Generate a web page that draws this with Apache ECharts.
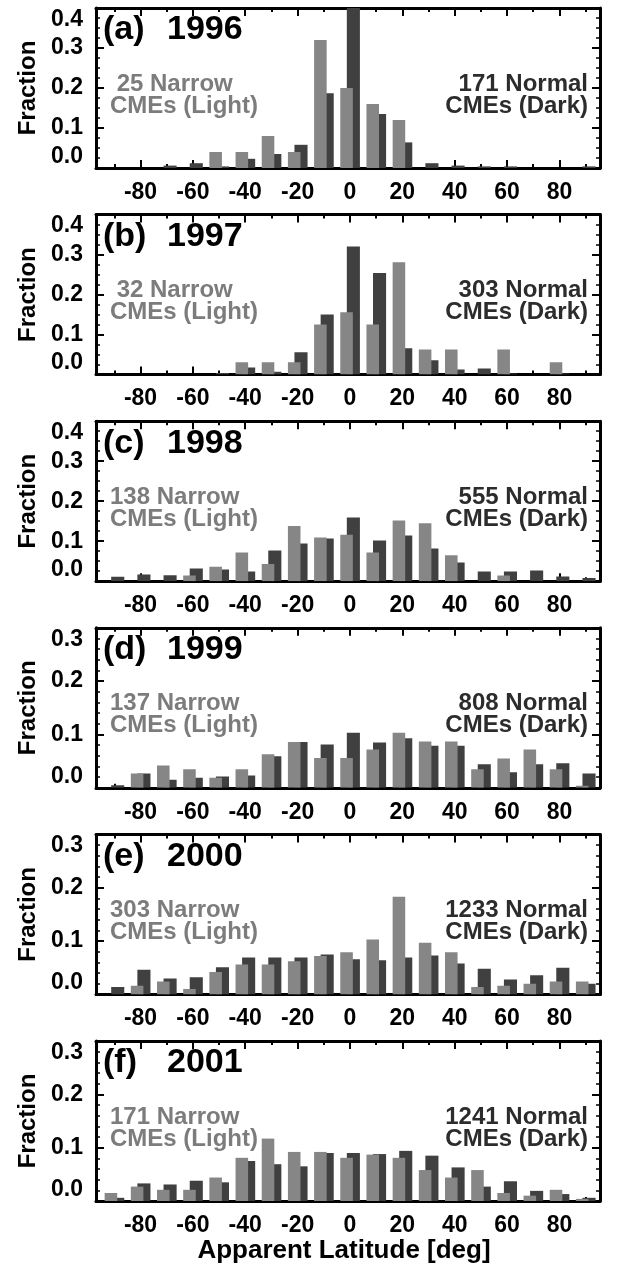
<!DOCTYPE html>
<html>
<head>
<meta charset="utf-8">
<script src="https://cdn.jsdelivr.net/npm/echarts@6/dist/echarts.min.js"></script>
<style>
html,body{margin:0;padding:0;background:#fff;}
#chart{width:618px;height:1268px;}
</style>
</head>
<body>
<div id="chart"></div>
<script>
// ---------------- data ----------------
const latBins = [-90,-80,-70,-60,-50,-40,-30,-20,-10,0,10,20,30,40,50,60,70,80,90];
const xMajorTicks = [-80,-60,-40,-20,0,20,40,60,80];
const xMinorTicks = [-90,-70,-50,-30,-10,10,30,50,70,90];
const panelLetters = ['(a)','(b)','(c)','(d)','(e)','(f)'];
const years = ['1996','1997','1998','1999','2000','2001'];
const narrowCounts = [25,32,138,137,303,171];
const normalCounts = [171,303,555,808,1233,1241];
const yMaxes = [0.4,0.4,0.4,0.3,0.3,0.3];

// narrow CMEs (light bars)
const light1996 = [0,0,0,0,0.04,0.04,0.08,0.04,0.32,0.20,0.16,0.12,0,0,0,0,0,0,0];
const light1997 = [0,0,0,0,0,0.031,0.031,0.031,0.125,0.156,0.125,0.281,0.0625,0.0625,0,0.0625,0,0.031,0];
const light1998 = [0,0,0,0.0145,0.036,0.072,0.043,0.138,0.109,0.116,0.072,0.152,0.145,0.065,0,0.0145,0,0,0];
const light1999 = [0,0.027,0.042,0.035,0.019,0.035,0.063,0.086,0.056,0.056,0.072,0.103,0.087,0.087,0.035,0.055,0.072,0.035,0.004];
const light2000 = [0,0.016,0.024,0.010,0.042,0.056,0.056,0.062,0.072,0.079,0.103,0.183,0.097,0.079,0.014,0.016,0.020,0.024,0.024];
const light2001 = [0.015,0.027,0.021,0.021,0.044,0.081,0.117,0.092,0.092,0.081,0.087,0.081,0.058,0.044,0.058,0.015,0.010,0.021,0.004];

// normal CMEs (dark bars)
const dark1996 = [0,0,0.006,0.012,0.004,0.023,0.035,0.058,0.187,0.41,0.135,0.064,0.012,0.006,0.004,0.004,0,0,0.004];
const dark1997 = [0,0,0,0,0.004,0.018,0.007,0.056,0.15,0.32,0.254,0.066,0.036,0.013,0.015,0.003,0,0.003,0];
const dark1998 = [0.011,0.017,0.015,0.032,0.029,0.024,0.077,0.094,0.107,0.159,0.102,0.114,0.082,0.047,0.024,0.024,0.027,0.012,0.008];
const dark1999 = [0.005,0.027,0.015,0.019,0.021,0.023,0.059,0.086,0.081,0.103,0.085,0.093,0.079,0.079,0.044,0.029,0.044,0.046,0.027];
const dark2000 = [0.014,0.046,0.030,0.032,0.051,0.069,0.069,0.069,0.075,0.066,0.064,0.069,0.073,0.058,0.048,0.028,0.036,0.050,0.020];
const dark2001 = [0.006,0.033,0.031,0.038,0.035,0.075,0.069,0.065,0.090,0.090,0.088,0.094,0.085,0.063,0.027,0.037,0.019,0.013,0.006];

const lightSeries = [light1996,light1997,light1998,light1999,light2000,light2001];
const darkSeries = [dark1996,dark1997,dark1998,dark1999,dark2000,dark2001];

// ---------------- layout / style ----------------
const FONT = '"Liberation Sans", Arial, Helvetica, sans-serif';
const GRID_LEFT = 96, GRID_W = 504, TOP0 = 8, PITCH = 206.6, GRID_H = 160;
const XMIN = -97, XMAX = 95.5;
const LIGHT = '#868686', DARK = '#404040';
const LIGHT_TXT = '#7c7c7c', DARK_TXT = '#2c2c2c';

function barRender(offL, offR, color) {
  return function (params, api) {
    const c = api.value(0), v = api.value(1);
    const p0 = api.coord([c + offL, v]);
    const p1 = api.coord([c + offR, 0]);
    return {
      type: 'rect',
      shape: { x: p0[0], y: p0[1], width: p1[0] - p0[0], height: p1[1] - p0[1] },
      style: { fill: color }
    };
  };
}

const grids = [], xAxes = [], yAxes = [], series = [], graphics = [];
const pad3 = n => (String(n).length < 3 ? ' ' : '') + n;
function txt(x, y, text, size, fill, align, extra) {
  return Object.assign({ type: 'text', x: x, y: y, z: 10,
    style: { text: text, font: 'bold ' + size + 'px ' + FONT, fill: fill, align: align, verticalAlign: 'middle', textAlign: align, textVerticalAlign: 'middle' } }, extra || {});
}

for (let i = 0; i < 6; i++) {
  const top = TOP0 + i * PITCH;
  grids.push({ left: GRID_LEFT, top: top, width: GRID_W, height: GRID_H, containLabel: false });
  const base = { gridIndex: i, type: 'value', min: XMIN, max: XMAX, splitLine: { show: false } };
  const lineOn = { show: true, onZero: false, lineStyle: { color: '#000', width: 3 } };
  const lineOff = { show: false, onZero: false };
  xAxes.push(Object.assign({}, base, {
    position: 'bottom', axisLine: lineOn,
    axisTick: { show: true, inside: true, length: 8, lineStyle: { color: '#000', width: 2 }, customValues: xMajorTicks },
    axisLabel: { show: true, customValues: xMajorTicks, color: '#000', fontSize: 23, fontWeight: 'bold', fontFamily: FONT, margin: 13 }
  }));
  xAxes.push(Object.assign({}, base, {
    position: 'bottom', axisLine: lineOff,
    axisTick: { show: true, inside: true, length: 4, lineStyle: { color: '#000', width: 2 }, customValues: xMinorTicks },
    axisLabel: { show: false }
  }));
  xAxes.push(Object.assign({}, base, {
    position: 'top', axisLine: lineOn,
    axisTick: { show: true, inside: true, length: 8, lineStyle: { color: '#000', width: 2 }, customValues: xMajorTicks },
    axisLabel: { show: false }
  }));
  xAxes.push(Object.assign({}, base, {
    position: 'top', axisLine: lineOff,
    axisTick: { show: true, inside: true, length: 4, lineStyle: { color: '#000', width: 2 }, customValues: xMinorTicks },
    axisLabel: { show: false }
  }));
  const yBase = {
    gridIndex: i, type: 'value', min: 0, max: yMaxes[i], interval: 0.1,
    splitLine: { show: false },
    axisLine: { show: true, onZero: false, lineStyle: { color: '#000', width: 3 } },
    axisTick: { show: true, inside: true, length: 8, lineStyle: { color: '#000', width: 2 } },
    minorTick: { show: true, splitNumber: i < 3 ? 4 : 5, length: 4, lineStyle: { color: '#000', width: 1.5 } }
  };
  yAxes.push(Object.assign({}, yBase, {
    position: 'left',
    axisLabel: {
      show: true, formatter: v => v.toFixed(1), color: '#000', fontSize: 23, fontWeight: 'bold', fontFamily: FONT, margin: 13,
      verticalAlignMaxLabel: 'top', verticalAlignMinLabel: 'bottom'
    }
  }));
  yAxes.push(Object.assign({}, yBase, { position: 'right', axisLabel: { show: false } }));

  const darkData = latBins.map((b, k) => [b, darkSeries[i][k]]);
  const lightData = latBins.map((b, k) => [b, lightSeries[i][k]]);
  series.push({
    type: 'custom', name: 'Normal ' + years[i], xAxisIndex: 4 * i, yAxisIndex: 2 * i,
    clip: true, silent: true, renderItem: barRender(-1.2, 3.8, DARK), data: darkData, z: 2
  });
  series.push({
    type: 'custom', name: 'Narrow ' + years[i], xAxisIndex: 4 * i, yAxisIndex: 2 * i,
    clip: true, silent: true, renderItem: barRender(-3.7, 1.1, LIGHT), data: lightData, z: 3
  });

  graphics.push(txt(103, top + 22, panelLetters[i], 34, '#000', 'left'));
  graphics.push(txt(167, top + 22, years[i], 34, '#000', 'left'));
  graphics.push(txt(110, top + 76, pad3(narrowCounts[i]) + ' Narrow', 24, LIGHT_TXT, 'left'));
  graphics.push(txt(110, top + 98, 'CMEs (Light)', 24, LIGHT_TXT, 'left'));
  graphics.push(txt(588, top + 76, normalCounts[i] + ' Normal', 24, DARK_TXT, 'right'));
  graphics.push(txt(588, top + 98, 'CMEs (Dark)', 24, DARK_TXT, 'right'));
  graphics.push(txt(28, top + GRID_H / 2, 'Fraction', 24, '#000', 'center', { rotation: Math.PI / 2 }));
}
graphics.push(txt(GRID_LEFT + GRID_W / 2 - 4, TOP0 + 5 * PITCH + GRID_H + 50, 'Apparent Latitude [deg]', 26, '#000', 'center'));

const chart = echarts.init(document.getElementById('chart'), null, { renderer: 'canvas' });
chart.setOption({
  animation: false,
  backgroundColor: '#fff',
  grid: grids,
  xAxis: xAxes,
  yAxis: yAxes,
  series: series,
  graphic: graphics
});
</script>
</body>
</html>
